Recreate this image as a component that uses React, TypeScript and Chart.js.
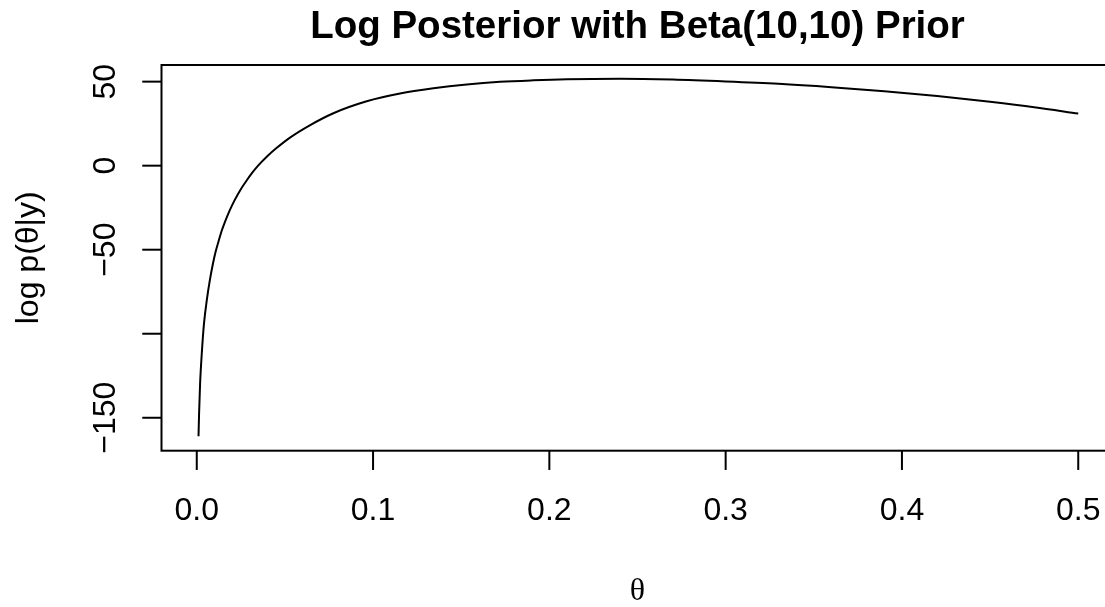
import { useEffect, useRef } from "react";
import { Chart, registerables } from "chart.js";

Chart.register(...registerables);

// ---- data ----
const thetaValues = [
  0.001, 0.0013, 0.0019, 0.0028, 0.0041, 0.0057, 0.0075, 0.0092, 0.0108,
  0.0125, 0.0142, 0.016, 0.0185, 0.0215, 0.025, 0.028, 0.0315, 0.0348, 0.04,
  0.0454, 0.0529, 0.0641, 0.0775, 0.0964, 0.1153, 0.1342, 0.1531, 0.172,
  0.1909, 0.21, 0.24, 0.27, 0.3, 0.33, 0.36, 0.39, 0.42, 0.45, 0.475, 0.5,
];
const logPosteriorValues = [
  -161.0, -148.0, -129.5, -112.5, -94.0, -80.0, -67.7, -58.2, -50.8, -44.5,
  -38.6, -33.5, -27.1, -20.5, -14.0, -9.3, -4.2, 0.0, 5.6, 10.6, 16.7, 24.0,
  31.2, 38.3, 42.9, 46.0, 48.3, 49.9, 50.8, 51.4, 51.7, 51.2, 50.1, 48.7, 46.7,
  44.3, 41.4, 38.0, 34.8, 31.0,
];

const xTicks = [0, 0.1, 0.2, 0.3, 0.4, 0.5];
const xTickLabels = ["0.0", "0.1", "0.2", "0.3", "0.4", "0.5"];
const yTicks = [-150, -100, -50, 0, 50];
const yTickLabels = ["\u2212150", "", "\u221250", "0", "50"];

const titleText = "Log Posterior with Beta(10,10) Prior";
const xLabelText = "\u03b8";
const yLabelText = "log p(\u03b8|y)";

const xRange = [-0.02, 0.52];
const yRange = [-169.6, 59.9];

const LINE = 38.5; // R margin line height in px

const rAxesPlugin = {
  id: "rAxes",
  afterDraw(chart: any) {
    const ctx = chart.ctx as CanvasRenderingContext2D;
    const { left, top, right, bottom } = chart.chartArea;
    const xs = chart.scales.x;
    const ys = chart.scales.y;
    ctx.save();
    ctx.strokeStyle = "#000";
    ctx.fillStyle = "#000";
    ctx.lineWidth = 2;
    ctx.strokeRect(left, top, right - left, bottom - top);

    const tick = LINE * 0.5;
    ctx.font = '32px "Liberation Sans", Arial, sans-serif';
    ctx.textAlign = "center";
    ctx.textBaseline = "alphabetic";
    xTicks.forEach((v, i) => {
      const px = xs.getPixelForValue(v);
      ctx.beginPath();
      ctx.moveTo(px, bottom);
      ctx.lineTo(px, bottom + tick);
      ctx.stroke();
      ctx.fillText(xTickLabels[i], px, bottom + 1.8 * LINE);
    });
    yTicks.forEach((v, i) => {
      const py = ys.getPixelForValue(v);
      ctx.beginPath();
      ctx.moveTo(left, py);
      ctx.lineTo(left - tick, py);
      ctx.stroke();
      if (yTickLabels[i]) {
        ctx.save();
        ctx.translate(left - 1.2 * LINE, py);
        ctx.rotate(-Math.PI / 2);
        ctx.fillText(yTickLabels[i], 0, 0);
        ctx.restore();
      }
    });

    // y label
    ctx.save();
    ctx.translate(left - 3.2 * LINE, (top + bottom) / 2);
    ctx.rotate(-Math.PI / 2);
    ctx.fillText(yLabelText, 0, 0);
    ctx.restore();

    // x label
    ctx.font = '32px "Liberation Serif", "DejaVu Serif", serif';
    ctx.fillText(xLabelText, (left + right) / 2, bottom + 3.8 * LINE + 3);

    // title
    ctx.font = 'bold 38.5px "Liberation Sans", Arial, sans-serif';
    ctx.fillText(titleText, (left + right) / 2, 37.5);
    ctx.restore();
  },
};

export default function App() {
  const canvasRef = useRef<HTMLCanvasElement | null>(null);

  useEffect(() => {
    const canvas = canvasRef.current;
    if (!canvas) return;
    const points = thetaValues.map((t, i) => ({ x: t, y: logPosteriorValues[i] }));
    const chart = new Chart(canvas, {
      type: "line",
      data: {
        datasets: [
          {
            data: points,
            borderColor: "#000",
            borderWidth: 2,
            pointRadius: 0,
            fill: false,
            cubicInterpolationMode: "monotone",
          },
        ],
      },
      options: {
        responsive: false,
        animation: false,
        devicePixelRatio: 1,
        layout: { padding: { left: 161.5, top: 65, right: 26.5, bottom: 156.3 } },
        plugins: { legend: { display: false }, tooltip: { enabled: false }, title: { display: false } },
        scales: {
          x: { type: "linear", min: xRange[0], max: xRange[1], display: false },
          y: { type: "linear", min: yRange[0], max: yRange[1], display: false },
        },
      },
      plugins: [rAxesPlugin],
    });
    return () => chart.destroy();
  }, []);

  return (
    <div
      style={{
        position: "fixed",
        left: 0,
        top: 0,
        width: 1105,
        height: 607,
        overflow: "hidden",
        background: "#fff",
      }}
    >
      <canvas ref={canvasRef} width={1140} height={607} style={{ display: "block" }} />
    </div>
  );
}
